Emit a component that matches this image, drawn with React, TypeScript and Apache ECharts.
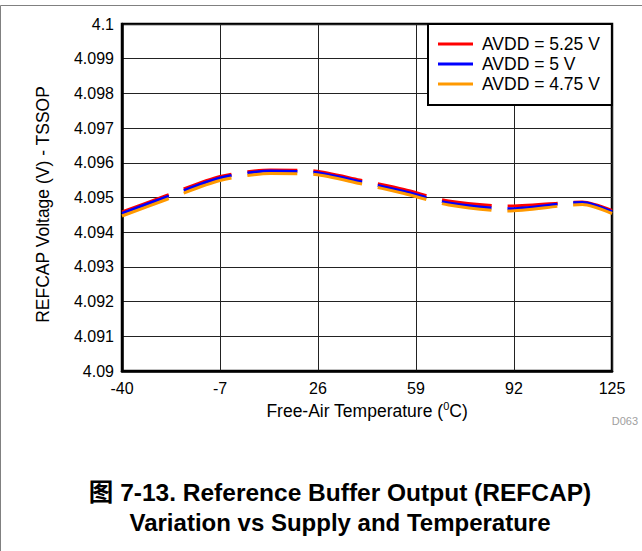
import React, { useEffect, useRef } from "react";
import * as echarts from "echarts";

// Free-air temperature (°C) at which each point was read
const temperatures = [-40, -25, -7, 10, 25, 40, 55, 70, 90, 115, 125];
// REFCAP voltage (V) for each supply
const avdd525 = [4.094582, 4.095058, 4.095605, 4.095793, 4.095764, 4.095504, 4.095231, 4.094899, 4.094755, 4.09487, 4.094625];
const avdd500 = [4.094545, 4.095014, 4.095562, 4.095764, 4.09572, 4.095461, 4.095173, 4.094841, 4.094674, 4.094856, 4.094591];
const avdd475 = [4.094467, 4.094942, 4.09549, 4.095692, 4.095663, 4.095403, 4.095115, 4.094784, 4.094611, 4.094798, 4.094539];

const xTicks = [-40, -7, 26, 59, 92, 125];
const seriesNames = ["AVDD = 5.25 V", "AVDD = 5 V", "AVDD = 4.75 V"];
const seriesColors = ["#ff0000", "#0000ff", "#ff9900"];
const seriesValues = [avdd525, avdd500, avdd475];

const FONT = "'Liberation Sans', Arial, Helvetica, 'Noto Sans CJK SC', sans-serif";

export default function App() {
  const ref = useRef<HTMLDivElement>(null);

  useEffect(() => {
    if (!ref.current) return;
    const chart = echarts.init(ref.current, undefined, { renderer: "svg" });

    const series = seriesValues.map((vals, i) => ({
      name: seriesNames[i],
      type: "line",
      data: temperatures.map((t, j) => [t, vals[j]]),
      showSymbol: false,
      symbol: "none",
      smooth: 0.25,
      color: seriesColors[i],
      itemStyle: { color: seriesColors[i] },
      lineStyle: { color: seriesColors[i], width: 3, type: [50, 16], cap: "butt" },
      z: 3 + i,
    }));

    chart.setOption({
      animation: false,
      backgroundColor: "#ffffff",
      textStyle: { fontFamily: FONT },
      grid: {
        left: 122,
        top: 24,
        width: 490,
        height: 347,
        containLabel: false,
        show: true,
        borderColor: "#000",
        borderWidth: 2.5,
        backgroundColor: "transparent",
      },
      legend: {
        data: seriesNames,
        orient: "vertical",
        left: 428,
        top: 24,
        icon: "rect",
        itemWidth: 35,
        itemHeight: 3,
        itemGap: 0,
        padding: [10, 12, 11, 10],
        borderColor: "#000",
        borderWidth: 2,
        backgroundColor: "#fff",
        textStyle: {
          fontFamily: FONT,
          fontSize: 17.5,
          lineHeight: 20,
          color: "#000",
          padding: [0, 0, 0, 4],
        },
      },
      xAxis: {
        type: "value",
        min: -40,
        max: 125,
        interval: 33,
        axisLine: { show: true, onZero: false, lineStyle: { color: "#000", width: 2.5 } },
        axisTick: { show: false, customValues: xTicks },
        axisLabel: {
          customValues: xTicks,
          fontSize: 16,
          color: "#000",
          margin: 9,
          fontFamily: FONT,
        },
        splitLine: { show: true, lineStyle: { color: "#222", width: 1 } },
        name: "Free-Air Temperature ({sup|0}C)",
        nameLocation: "middle",
        nameGap: 28,
        nameTextStyle: {
          fontSize: 17.5,
          color: "#000",
          fontFamily: FONT,
          lineHeight: 20,
          rich: {
            sup: { fontSize: 11, verticalAlign: "top", lineHeight: 20, color: "#000", fontFamily: FONT },
          },
        },
      },
      yAxis: {
        type: "value",
        min: 4.09,
        max: 4.1,
        interval: 0.001,
        axisLine: { show: true, onZero: false, lineStyle: { color: "#000", width: 2.5 } },
        axisTick: { show: false },
        axisLabel: {
          fontSize: 16,
          color: "#000",
          margin: 8,
          fontFamily: FONT,
          formatter: (v: number) => String(parseFloat(v.toFixed(3))),
        },
        splitLine: { show: true, lineStyle: { color: "#222", width: 1 } },
        name: "REFCAP Voltage (V) - TSSOP",
        nameLocation: "middle",
        nameGap: 70,
        nameTextStyle: { fontSize: 17.5, color: "#000", fontFamily: FONT, padding: [0, 14, 0, 0] },
      },
      series,
      graphic: [
        {
          type: "rect",
          silent: true,
          z: -1,
          shape: { x: 0.5, y: 5.5, width: 800, height: 800 },
          style: { fill: "none", stroke: "#808080", lineWidth: 1 },
        },
        {
          type: "text",
          silent: true,
          x: 638,
          y: 421,
          style: {
            text: "D063",
            fontSize: 11,
            fontFamily: FONT,
            fill: "#a0a0a0",
            align: "right",
            verticalAlign: "middle",
          },
        },
        {
          type: "text",
          silent: true,
          x: 340,
          y: 492,
          style: {
            text: "图 7-13. Reference Buffer Output (REFCAP)",
            fontSize: 24.5,
            fontWeight: "bold",
            fontFamily: FONT,
            fill: "#000",
            align: "center",
            verticalAlign: "middle",
          },
        },
        {
          type: "text",
          silent: true,
          x: 340,
          y: 522,
          style: {
            text: "Variation vs Supply and Temperature",
            fontSize: 24,
            fontWeight: "bold",
            fontFamily: FONT,
            fill: "#000",
            align: "center",
            verticalAlign: "middle",
          },
        },
      ],
    });

    return () => chart.dispose();
  }, []);

  return (
    <div
      ref={ref}
      style={{ position: "fixed", left: 0, top: 0, width: 642, height: 551, background: "#fff" }}
    />
  );
}
